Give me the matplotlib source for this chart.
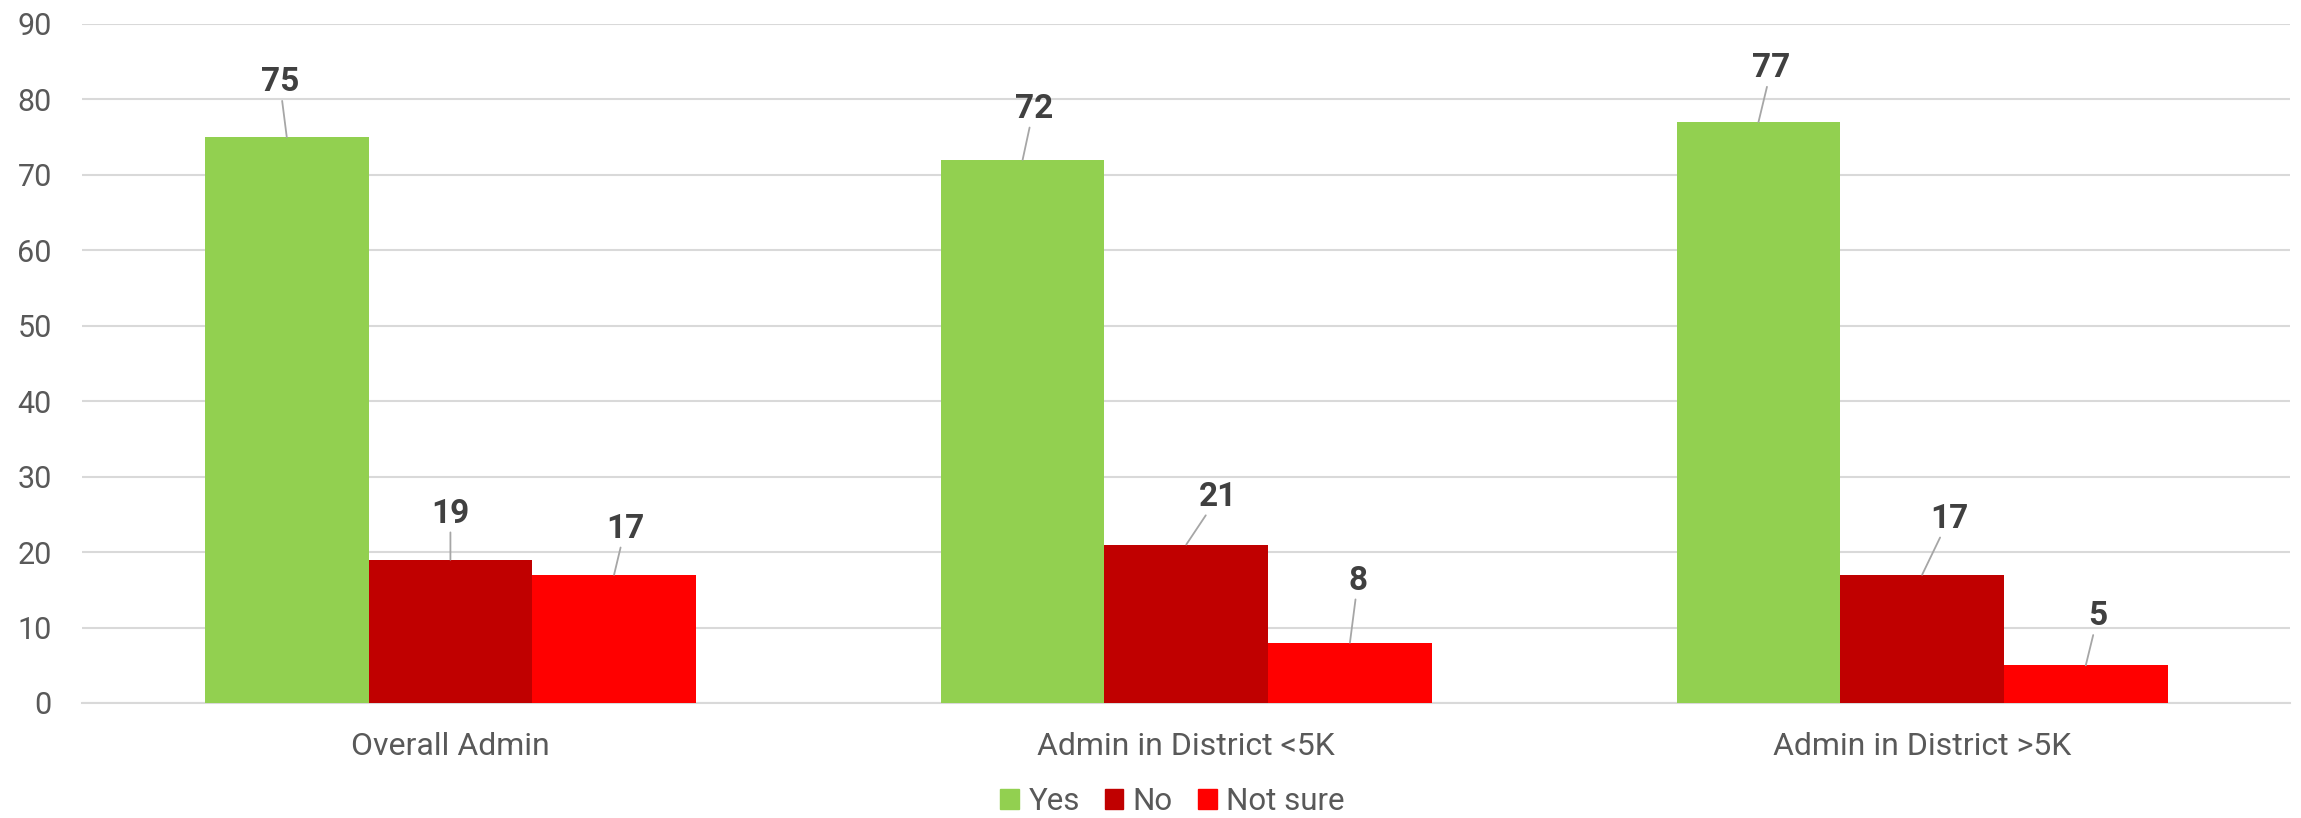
import numpy as np
import matplotlib.pyplot as plt
from matplotlib.patches import Patch

# chart data
categories = ['Overall Admin', 'Admin in District <5K', 'Admin in District >5K']
series = ['Yes', 'No', 'Not sure']
yes_vals = [75, 72, 77]
no_vals = [19, 21, 17]
notsure_vals = [17, 8, 5]

colors = ['#92D050', '#C00000', '#FF0000']
# label offsets (pixels) from the bar top, like the leader lines in the original
label_dx = [[-7, 11, 13], [0, 32, 27], [11, 8, 12]]
label_dy = [[55, 51, 54], [46, 48, 56], [46, 62, 49]]

plt.rcParams['font.family'] = ['Roboto', 'DejaVu Sans']

fig = plt.figure(figsize=(23.01, 8.18), dpi=100)
ax = fig.add_axes([0.03585, 0.1406, 0.9594, 0.8301])

x = np.arange(len(categories))
w = 0.2224
all_vals = [yes_vals, no_vals, notsure_vals]
for j, vals in enumerate(all_vals):
    pos = x + (j - 1) * w
    ax.bar(pos, vals, width=w, color=colors[j], zorder=3)
    for i, v in enumerate(vals):
        ax.annotate(str(v), xy=(pos[i], v), xytext=(label_dx[j][i], label_dy[j][i]),
                    textcoords='offset pixels', ha='center', va='center',
                    fontsize=24, fontweight='bold', color='#404040',
                    arrowprops=dict(arrowstyle='-', color='#A6A6A6', lw=1.3,
                                    shrinkA=0, shrinkB=0))

ax.set_xlim(-0.5, 2.5)
ax.set_ylim(0, 90)
ax.set_yticks(range(0, 91, 10))
ax.set_xticks(x)
ax.set_xticklabels(categories, fontsize=23, color='#595959')
ax.tick_params(axis='y', labelsize=22, labelcolor='#595959', length=0, pad=22)
ax.tick_params(axis='x', length=0, pad=21)
ax.grid(axis='y', color='#D9D9D9', lw=1.5, zorder=0)
for s in ['top', 'right', 'left']:
    ax.spines[s].set_visible(False)
ax.spines['bottom'].set_color('#D9D9D9')
ax.spines['bottom'].set_linewidth(1.5)

handles = [Patch(color=c, label=s) for c, s in zip(colors, series)]
fig.legend(handles=handles, loc='center', bbox_to_anchor=(0.5095, 0.02), ncol=3,
           frameon=False, fontsize=22.5, labelcolor='#595959',
           handlelength=0.6, handleheight=0.6, handletextpad=0.3, columnspacing=0.8)

fig.savefig('out.png', dpi=100)
